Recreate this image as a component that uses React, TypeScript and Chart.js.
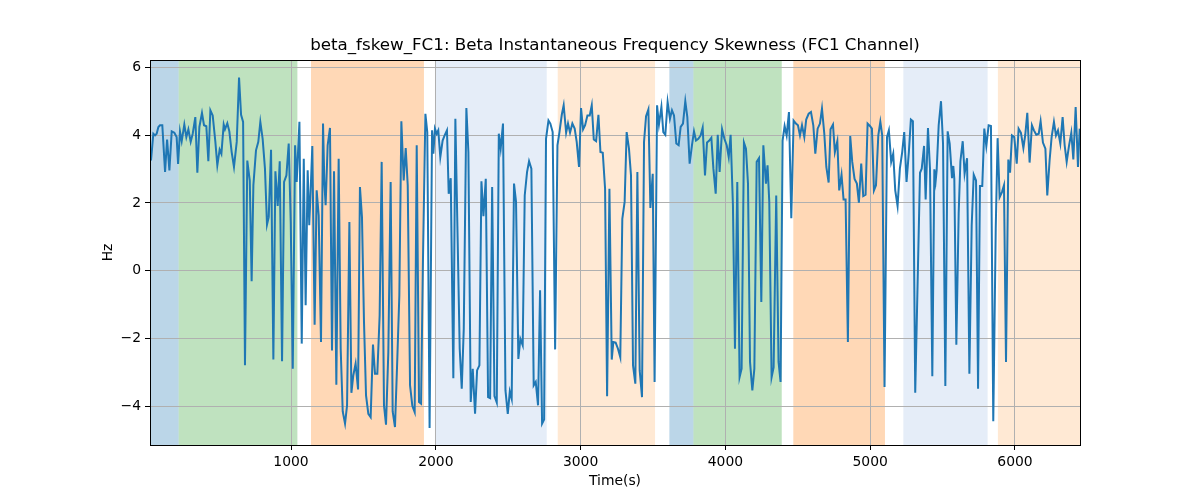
import React, { useRef, useEffect } from 'react';
import { Chart, registerables } from 'chart.js';

Chart.register(...registerables);

const title = 'beta_fskew_FC1: Beta Instantaneous Frequency Skewness (FC1 Channel)';

// time (s) of each vertex of the trace
const time = [
  33, 49, 61, 72, 84, 95, 111, 130, 144, 160, 176, 194, 210, 220, 233, 245, 263, 277, 291, 307,
  321, 339, 353, 367, 385, 399, 415, 429, 443, 459, 477, 491, 507, 519, 535, 544, 560, 574, 590, 606,
  625, 641, 655, 669, 682, 698, 715, 728, 740, 758, 774, 788, 804, 820, 834, 846, 862, 878, 892, 908,
  922, 938, 952, 968, 984, 998, 1012, 1028, 1039, 1058, 1074, 1088,
  1101, 1115, 1126, 1136, 1147, 1163, 1177, 1191, 1207, 1221, 1230, 1239, 1253, 1269, 1283, 1297, 1313, 1329, 1343, 1357,
  1373, 1387, 1403, 1417, 1430, 1446, 1463, 1476, 1490, 1504, 1518, 1534, 1550, 1566, 1580, 1596, 1612, 1626, 1642, 1656,
  1672, 1688, 1702, 1718, 1734, 1748, 1762, 1778, 1792, 1806, 1822, 1838, 1854, 1868, 1884, 1898, 1911, 1928, 1941, 1957,
  1974, 1983, 1994, 2006, 2017, 2031, 2047, 2061, 2077, 2089, 2103, 2121, 2135,
  2165, 2179, 2193, 2211, 2225, 2241, 2255, 2271, 2285, 2301, 2315, 2329, 2345, 2361, 2375, 2389, 2405, 2421, 2435, 2448,
  2464, 2481, 2497, 2511, 2524, 2540, 2554, 2570, 2584, 2600, 2614, 2630, 2644, 2660, 2676, 2690, 2706, 2720, 2734, 2748,
  2761, 2778, 2791, 2807, 2824, 2840, 2854, 2870, 2883, 2900, 2913, 2927, 2943, 2959, 2973, 2989, 3003, 3017, 3031, 3047,
  3063, 3077, 3091, 3107, 3123, 3137, 3153, 3169, 3183, 3199,
  3215, 3226, 3242, 3258, 3274, 3288, 3304, 3318, 3334, 3348, 3362, 3378, 3392, 3408, 3424, 3438, 3452, 3468, 3482, 3498,
  3511, 3528, 3541, 3558, 3571, 3585, 3601, 3617, 3631, 3645, 3661, 3677, 3691, 3707, 3723, 3737, 3753, 3769, 3783, 3797,
  3813, 3829, 3843, 3859, 3873, 3887, 3903, 3917, 3933, 3947, 3960, 3977, 3993, 4009, 4023, 4036, 4052, 4066, 4082, 4098,
  4112, 4128, 4142, 4156, 4170, 4186, 4200, 4216, 4232, 4248, 4262,
  4280, 4291, 4303, 4319, 4333, 4351, 4367, 4381, 4395, 4409, 4423, 4439, 4455, 4471, 4487, 4501, 4515, 4529, 4545, 4558,
  4575, 4591, 4607, 4621, 4637, 4653, 4667, 4683, 4697, 4713, 4726, 4743, 4756, 4773, 4786, 4802, 4816, 4830, 4846, 4862,
  4876, 4892, 4908, 4922, 4938, 4952, 4968, 4982, 4998, 5012, 5026, 5040, 5056, 5070, 5083, 5099, 5116, 5129, 5145, 5159,
  5173, 5189, 5205, 5221, 5235, 5251, 5267, 5281, 5295, 5311,
  5344, 5356, 5372, 5383, 5399, 5413, 5429, 5443, 5452, 5459, 5473, 5489, 5503, 5519, 5535, 5549, 5565, 5574, 5581, 5595,
  5611, 5623, 5639, 5652, 5669, 5685, 5701, 5715, 5731, 5745, 5758, 5774, 5788, 5802, 5818, 5834, 5850, 5867, 5880, 5894,
  5910, 5924, 5938, 5954, 5966, 5979, 5995, 6012, 6025, 6041, 6058, 6071, 6085, 6101, 6117, 6131, 6147, 6164, 6177, 6193,
  6210, 6223, 6239, 6253, 6269, 6283, 6297, 6313, 6329, 6343, 6357, 6373, 6389, 6403, 6419, 6435, 6447,
];

// skewness (Hz)
const hz = [
  3.25, 4.04, 3.99, 4.04, 4.24, 4.29, 4.29, 2.91, 3.87, 2.96, 4.11, 4.07, 3.94, 3.15, 4.11, 3.82, 4.31, 3.94, 4.17, 3.80,
  4.04, 4.53, 2.89, 4.24, 4.65, 4.29, 4.26, 3.23, 4.73, 4.58, 3.82, 3.11, 3.57, 3.45, 4.31, 4.17, 4.35, 4.11, 3.50, 3.06,
  3.80, 5.70, 4.60, 4.39, -2.79, 3.25, 2.66, -0.31, 2.52, 3.55, 3.80, 4.39, 3.89, 3.01, 1.36, 1.58, 3.57, -2.62, 2.93, 1.91,
  3.23, -2.67, 2.62, 2.81, 3.75, 1.44, -2.89, 3.70, 2.62, 4.39, -2.15, 3.30,
  -1.02, 2.96, 1.34, 2.42, 3.68, -1.59, 2.37, 1.63, -2.10, 4.34, 2.62, 1.93, 3.70, 4.21, -2.35, 2.93, -3.36, 3.30, -2.30, -4.15,
  -4.51, -3.97, 1.44, -3.60, -3.09, -2.74, -3.50, 2.47, 1.58, -1.51, -3.68, -4.22, -4.32, -2.18, -3.04, -3.04, -1.32, 3.21, -3.97, -4.54,
  -2.40, 2.62, -4.15, -4.61, -2.60, -0.73, 4.41, 2.66, 3.62, 2.52, -3.38, -3.99, -4.17, 3.70, -3.87, -3.92, 0.26, 4.63, 4.09, -4.64,
  4.14, 3.45, 4.19, 4.04, 4.14, 3.35, 3.84, 3.99, 4.14, 2.27, 2.73, -3.17, 4.48,
  -2.30, -3.48, -1.71, 4.80, 3.50, -3.87, -2.89, -4.22, -2.94, -2.79, 2.64, 1.61, 2.71, -3.73, -3.76, 2.47, -3.70, -3.89, 4.04, 3.60,
  4.34, -3.53, -4.22, -3.56, -3.78, 2.57, 2.03, -2.60, -2.01, -2.20, 2.22, 2.91, 3.23, 3.01, -3.38, -3.28, -3.97, -0.58, -4.51, -4.39,
  3.89, 4.43, 4.34, 4.09, -2.32, 3.70, 4.09, 4.60, 4.88, 4.07, 4.34, 4.07, 4.34, 4.19, 3.80, 3.06, 4.80, 4.17, 4.29, 4.58,
  4.58, 4.88, 3.87, 3.82, 4.60, 3.50, 3.48, 2.42, -3.70, 2.42,
  -2.62, -2.10, -2.12, -2.30, -2.55, 1.53, 2.03, 4.09, 3.60, 2.81, -2.79, -3.33, 2.91, -2.94, -3.73, 3.80, 4.56, 4.76, 1.85, 2.86,
  -3.28, 4.88, 4.31, 4.83, 4.09, 4.01, 4.98, 4.48, 4.73, 4.58, 3.75, 3.70, 4.24, 4.34, 5.00, 4.53, 3.16, 3.70, 4.11, 3.84,
  3.89, 3.99, 4.22, 2.81, 3.78, 3.83, 3.92, 3.01, 2.27, 4.01, 2.91, 4.17, 3.89, 3.70, 3.35, 4.01, 1.93, -2.30, 2.62, -3.14,
  -2.89, 3.78, 3.60, 2.57, -2.69, -3.53, -2.89, 3.21, 3.32, -0.92, 3.70,
  2.57, 3.11, 2.03, -3.14, -2.85, 2.22, -2.69, -3.28, 3.84, 4.27, 3.99, 4.68, 1.55, 4.43, 4.34, 4.29, 3.99, 4.29, 3.94, 4.46,
  4.63, 4.68, 4.29, 3.45, 4.19, 4.34, 4.78, 4.04, 3.06, 2.60, 4.17, 4.31, 3.50, 3.82, 2.37, 2.83, 2.10, 2.10, -2.10, 3.97,
  3.21, 2.71, 2.57, 2.01, 3.16, 2.20, 2.24, 4.34, 4.27, 4.19, 2.37, 2.52, 3.99, 4.39, 3.99, -3.43, 3.94, 4.14, 3.21, 3.45,
  2.37, 1.91, 3.01, 3.50, 4.09, 2.62, 3.50, 4.46, 4.41, -3.60,
  2.89, 3.01, 3.68, 2.10, 4.21, 3.01, -3.11, 2.99, 2.64, 2.96, 4.29, 5.00, 3.75, -3.40, 4.11, 3.75, 2.73, 3.09, 2.71, -2.18,
  1.68, 3.23, 3.82, 2.86, 3.32, -3.04, 1.34, 2.83, 2.66, -3.48, 2.50, 2.50, 4.19, 3.68, 4.29, 4.27, -4.44, 1.24, 3.91, 2.17,
  2.32, 2.52, -2.69, 3.28, 2.89, 3.99, 3.94, 3.16, 4.19, 4.07, 3.62, 4.01, 4.66, 3.19, 4.29, 4.14, 4.01, 4.04, 4.41, 3.78,
  3.60, 2.22, 3.25, 3.94, 4.39, 3.99, 4.14, 3.75, 4.53, 3.70, 3.21, 3.68, 4.07, 3.28, 4.83, 3.06, 4.19,
];

// shaded stages
const spanStart = [26, 224, 1138, 1994, 2842, 3613, 3779, 4469, 5229, 5882];
const spanEnd = [224, 1044, 1918, 2766, 3514, 3779, 4389, 5102, 5811, 6449];
const spanKind = ['blue', 'green', 'orange', 'paleBlue', 'paleOrange', 'blue', 'green', 'orange', 'paleBlue', 'paleOrange'];

const xTicks = [1000, 2000, 3000, 4000, 5000, 6000];
const yTicks = [-4, -2, 0, 2, 4, 6];

const spanColor: Record<string, string> = {
  blue: 'rgba(31,119,180,0.3)',
  green: 'rgba(44,160,44,0.3)',
  orange: 'rgba(255,127,14,0.3)',
  paleBlue: 'rgba(174,199,232,0.32)',
  paleOrange: 'rgba(255,187,120,0.32)',
};

const FONT = "'DejaVu Sans', sans-serif";

const decor = {
  id: 'decor',
  beforeDraw(chart: any) {
    const { ctx, chartArea: a, scales } = chart;
    ctx.save();
    spanStart.forEach((s, i) => {
      const x0 = Math.max(a.left, scales.x.getPixelForValue(s));
      const x1 = Math.min(a.right, scales.x.getPixelForValue(spanEnd[i]));
      ctx.fillStyle = spanColor[spanKind[i]];
      ctx.fillRect(x0, a.top, x1 - x0, a.bottom - a.top);
    });
    ctx.restore();
  },
  afterDatasetsDraw(chart: any) {
    const { ctx, chartArea: a } = chart;
    ctx.save();
    ctx.strokeStyle = '#000';
    ctx.lineWidth = 1;
    ctx.strokeRect(a.left + 0.5, a.top + 0.5, a.right - a.left, a.bottom - a.top);
    ctx.fillStyle = '#000';
    ctx.textAlign = 'center';
    ctx.textBaseline = 'middle';
    const cx = (a.left + a.right) / 2;
    ctx.font = `16.7px ${FONT}`;
    ctx.fillText(title, cx, 46);
    ctx.font = `13.9px ${FONT}`;
    ctx.fillText('Time(s)', cx, 481);
    ctx.translate(108, (a.top + a.bottom) / 2);
    ctx.rotate(-Math.PI / 2);
    ctx.fillText('Hz', 0, 0);
    ctx.restore();
  },
};

export default function App() {
  const canvasRef = useRef<HTMLCanvasElement>(null);

  useEffect(() => {
    document.body.style.margin = '0';
    const ctx = canvasRef.current?.getContext('2d');
    if (!ctx) return;

    const chart = new Chart(ctx, {
      type: 'line',
      data: {
        datasets: [
          {
            data: time.map((t, i) => ({ x: t, y: hz[i] })),
            borderColor: '#1f77b4',
            borderWidth: 2,
            pointRadius: 0,
            tension: 0,
            fill: false,
          },
        ],
      },
      options: {
        animation: false,
        responsive: true,
        maintainAspectRatio: false,
        layout: { padding: { top: 60, right: 120, left: 0, bottom: 0 } },
        plugins: { legend: { display: false }, tooltip: { enabled: false } },
        scales: {
          x: {
            type: 'linear',
            min: 26,
            max: 6449,
            afterFit: (s: any) => { s.height = 55; },
            afterBuildTicks: (s: any) => { s.ticks = xTicks.map((v) => ({ value: v })); },
            grid: { color: '#b0b0b0', lineWidth: 1, tickColor: '#000', tickLength: 5 },
            border: { display: false },
            ticks: {
              color: '#000',
              padding: 4,
              maxRotation: 0,
              font: { family: FONT, size: 13.9 },
              callback: (v: any) => String(v),
            },
          },
          y: {
            type: 'linear',
            min: -5.14,
            max: 6.215,
            afterFit: (s: any) => { s.width = 150; },
            afterBuildTicks: (s: any) => { s.ticks = yTicks.map((v) => ({ value: v })); },
            grid: { color: '#b0b0b0', lineWidth: 1, tickColor: '#000', tickLength: 5 },
            border: { display: false },
            ticks: {
              color: '#000',
              padding: 4,
              font: { family: FONT, size: 13.9 },
              callback: (v: any) => String(v).replace('-', '\u2212'),
            },
          },
        },
      },
      plugins: [decor],
    });

    return () => chart.destroy();
  }, []);

  return (
    <div style={{ width: 1200, height: 500, position: 'relative' }}>
      <canvas ref={canvasRef} />
    </div>
  );
}
